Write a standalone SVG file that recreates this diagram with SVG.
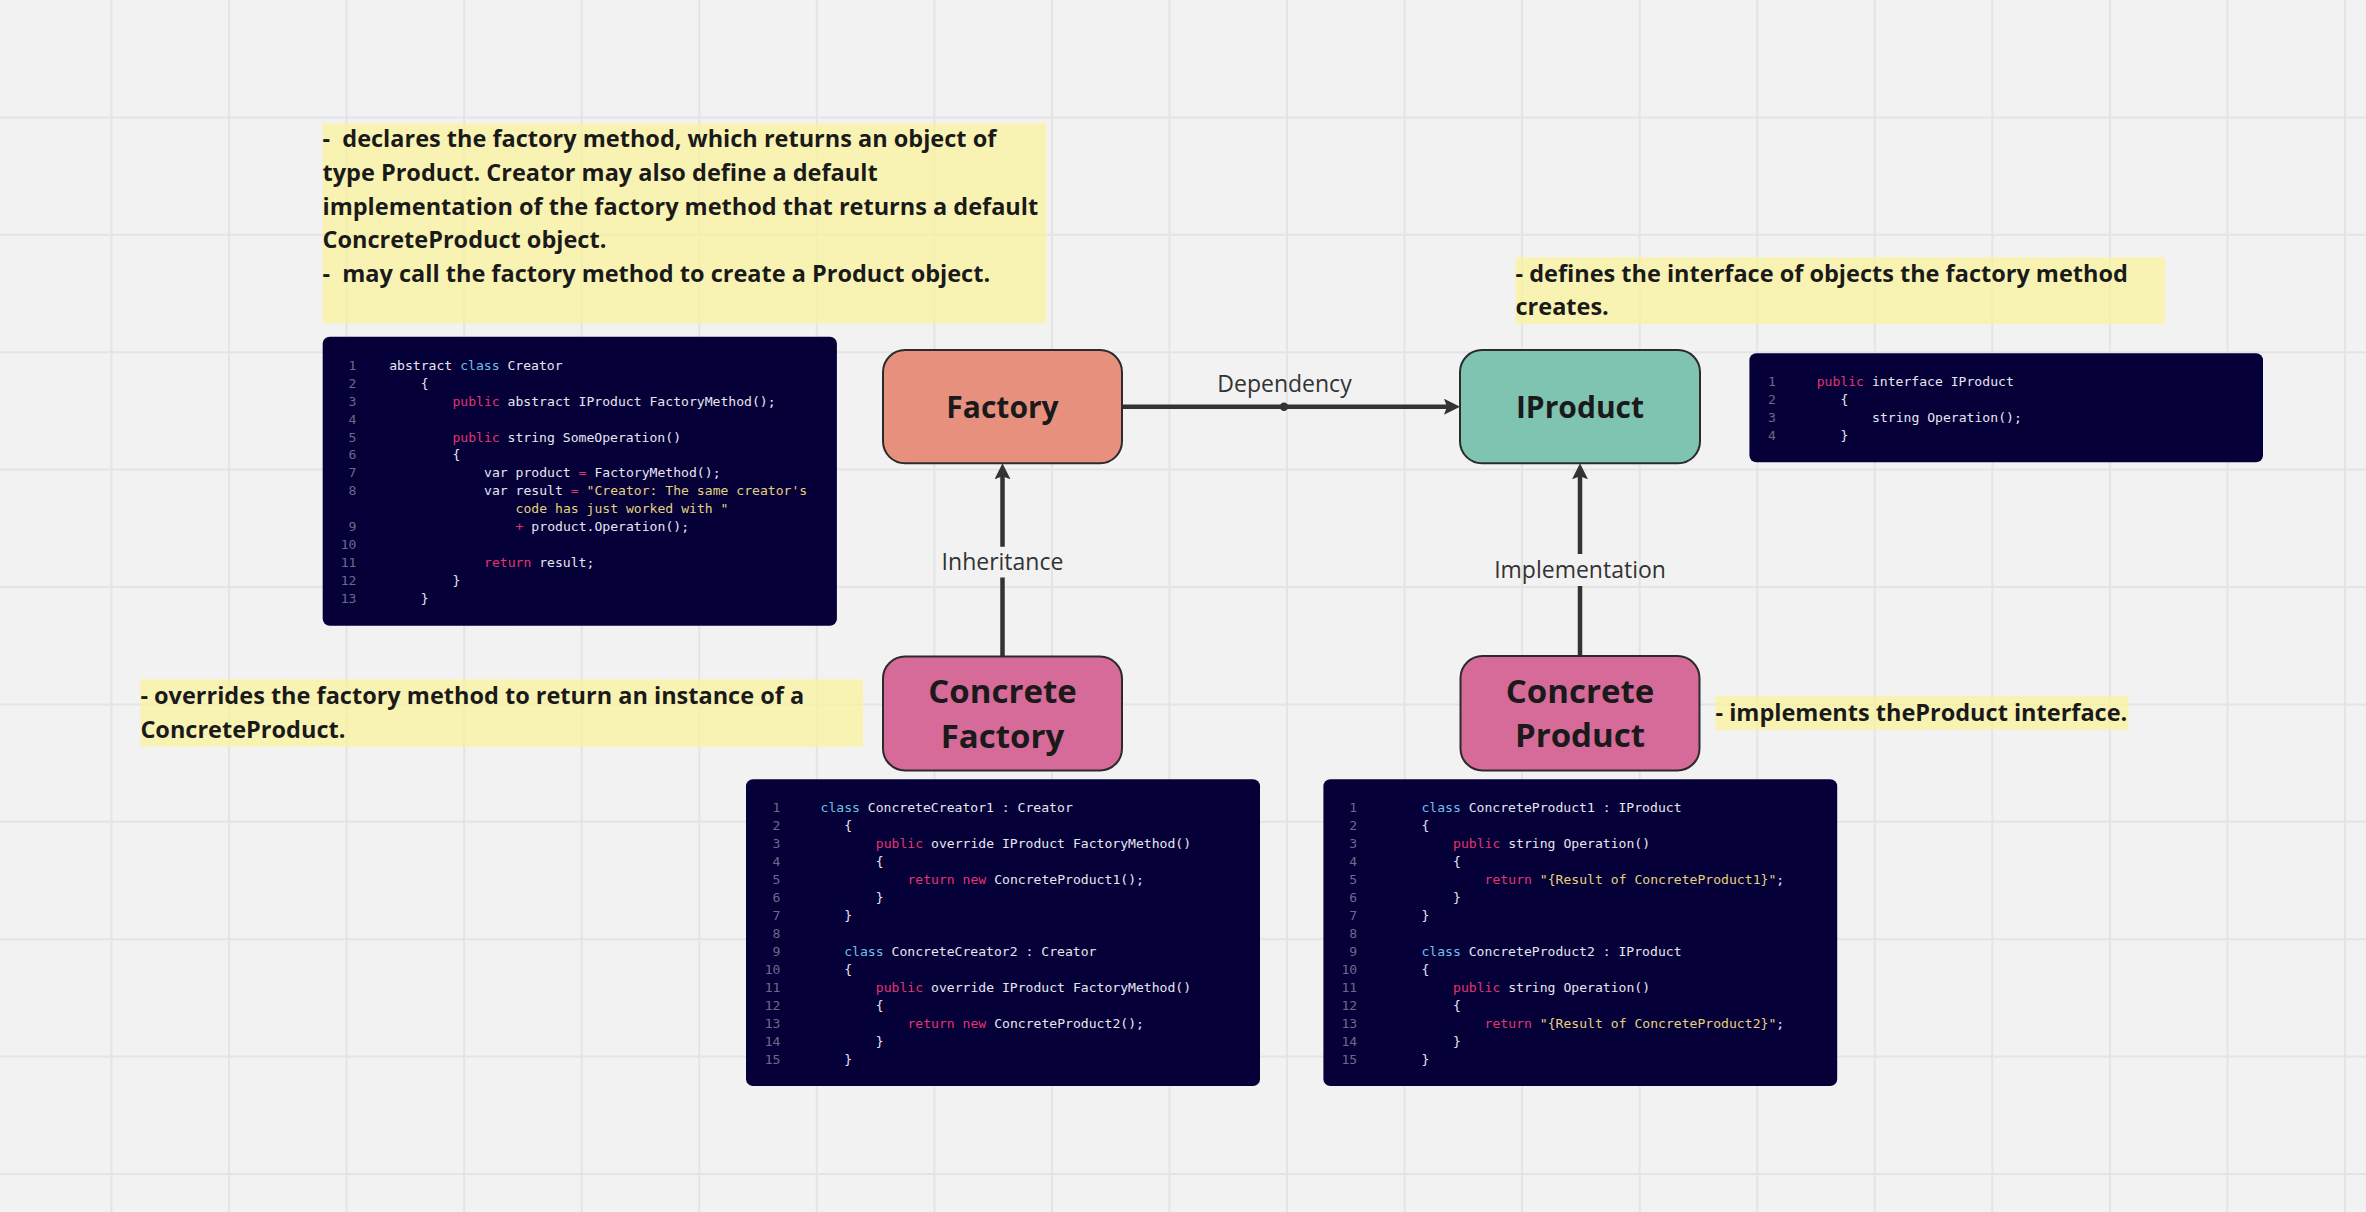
<svg xmlns="http://www.w3.org/2000/svg" width="2366" height="1212" viewBox="0 0 2366 1212">
<style>
.note{font-family:"Open Sans","Noto Sans","Liberation Sans",sans-serif;font-weight:700;font-size:23.5px;fill:#1a1a1a}
.nbg{fill:#fbf39a;opacity:0.72}
.node rect{stroke:#2b2b2b;stroke-width:2}
.ntxt{font-family:"Open Sans","Noto Sans","Liberation Sans",sans-serif;font-weight:700;fill:#1a1a1a;text-anchor:middle}
.lbl{font-family:"Open Sans","Noto Sans","Liberation Sans",sans-serif;font-size:23px;fill:#333333;text-anchor:middle}
.cbox{fill:#050038}
.code{font-family:"DejaVu Sans Mono","Liberation Mono",monospace;font-size:13.1px;fill:#e6e6f0}
.ln{fill:#6a6a8a;text-anchor:end}
.kw{fill:#e0356f}
.cl{fill:#6ec2e4}
.st{fill:#e3d27e}
.conn{fill:none;stroke:#333333;stroke-width:4.5}
</style>
<defs>
<marker id="arrow" viewBox="0 0 16 16" refX="6" refY="8" markerWidth="16" markerHeight="16" markerUnits="userSpaceOnUse" orient="auto">
<path d="M0,0 L16,8 L0,16 L3,8 z" fill="#333333"/>
</marker>
</defs>
<rect width="2366" height="1212" fill="#f2f2f2"/>
<path id="grid" fill="none" stroke="#e4e4e4" stroke-width="2" d="M111.5,0V1212M229.1,0V1212M346.6,0V1212M464.2,0V1212M581.7,0V1212M699.3,0V1212M816.8,0V1212M934.4,0V1212M1051.9,0V1212M1169.5,0V1212M1287,0V1212M1404.6,0V1212M1522.1,0V1212M1639.7,0V1212M1757.2,0V1212M1874.8,0V1212M1992.3,0V1212M2109.9,0V1212M2227.4,0V1212M2345,0V1212M0,117.4H2366M0,234.8H2366M0,352.2H2366M0,469.6H2366M0,587H2366M0,704.4H2366M0,821.8H2366M0,939.2H2366M0,1056.6H2366M0,1174H2366"/>

<g id="note-creator">
<rect class="nbg" x="322.5" y="123.3" width="724" height="200"/>
<text class="note" xml:space="preserve"><tspan x="322.5" y="147.3">-  declares the factory method, which returns an object of</tspan><tspan x="322.5" y="180.9">type Product. Creator may also define a default</tspan><tspan x="322.5" y="214.5">implementation of the factory method that returns a default</tspan><tspan x="322.5" y="248.1">ConcreteProduct object.</tspan><tspan x="322.5" y="281.7">-  may call the factory method to create a Product object.</tspan></text>
</g>

<g id="note-product">
<rect class="nbg" x="1515.5" y="257.3" width="649.5" height="66.7"/>
<text class="note"><tspan x="1515.5" y="281.7">- defines the interface of objects the factory method</tspan><tspan x="1515.5" y="315.2">creates.</tspan></text>
</g>

<g id="note-concrete-creator">
<rect class="nbg" x="140.4" y="679.3" width="722.6" height="67.4"/>
<text class="note"><tspan x="140.4" y="704.3">- overrides the factory method to return an instance of a</tspan><tspan x="140.4" y="737.8">ConcreteProduct.</tspan></text>
</g>

<g id="note-concrete-product">
<rect class="nbg" x="1715.5" y="696" width="413" height="34"/>
<text class="note" x="1715.5" y="721">- implements theProduct interface.</text>
</g>

<g id="connectors">
<path class="conn" d="M1122,406.7 H1450" marker-end="url(#arrow)"/>
<circle cx="1284" cy="406.7" r="4.2" fill="#333333"/>
<text class="lbl" x="1284.5" y="392.3">Dependency</text>
<path class="conn" d="M1002.5,656.5 V577.5 M1002.5,546.7 V473.3" marker-end="url(#arrow)"/>
<text class="lbl" x="1002.5" y="570">Inheritance</text>
<path class="conn" d="M1580,656 V586 M1580,554 V473.3" marker-end="url(#arrow)"/>
<text class="lbl" x="1580" y="578">Implementation</text>
</g>

<g id="node-factory" class="node">
<rect x="883" y="350" width="239" height="113.3" rx="22" fill="#e6907d"/>
<text class="ntxt" x="1002.5" y="418" font-size="30">Factory</text>
</g>
<g id="node-iproduct" class="node">
<rect x="1460" y="350" width="240" height="113.3" rx="22" fill="#7fc4b1"/>
<text class="ntxt" x="1580" y="418" font-size="30">IProduct</text>
</g>
<g id="node-concrete-factory" class="node">
<rect x="883" y="656.5" width="239" height="114" rx="22" fill="#d66a99"/>
<text class="ntxt" font-size="33"><tspan x="1002.5" y="703">Concrete</tspan><tspan x="1002.5" y="747.5">Factory</tspan></text>
</g>
<g id="node-concrete-product" class="node">
<rect x="1460.5" y="656" width="239" height="114.5" rx="22" fill="#d66a99"/>
<text class="ntxt" font-size="33"><tspan x="1580" y="703">Concrete</tspan><tspan x="1580" y="747">Product</tspan></text>
</g>

<g id="code-creator">
<rect class="cbox" x="322.7" y="336.7" width="514.2" height="289" rx="7"/>
<text class="code ln"><tspan x="356.5" y="369.7">1</tspan><tspan x="356.5" y="387.65">2</tspan><tspan x="356.5" y="405.6">3</tspan><tspan x="356.5" y="423.55">4</tspan><tspan x="356.5" y="441.5">5</tspan><tspan x="356.5" y="459.45">6</tspan><tspan x="356.5" y="477.4">7</tspan><tspan x="356.5" y="495.35">8</tspan><tspan x="356.5" y="531.25">9</tspan><tspan x="356.5" y="549.2">10</tspan><tspan x="356.5" y="567.15">11</tspan><tspan x="356.5" y="585.1">12</tspan><tspan x="356.5" y="603.05">13</tspan></text>
<text class="code" xml:space="preserve" x="389.2" y="369.7">abstract <tspan class="cl">class</tspan> Creator</text>
<text class="code" x="420.8" y="387.65">{</text>
<text class="code" xml:space="preserve" x="452.4" y="405.6"><tspan class="kw">public</tspan> abstract IProduct FactoryMethod();</text>
<text class="code" xml:space="preserve" x="452.4" y="441.5"><tspan class="kw">public</tspan> string SomeOperation()</text>
<text class="code" x="452.4" y="459.45">{</text>
<text class="code" xml:space="preserve" x="484" y="477.4">var product <tspan class="kw">=</tspan> FactoryMethod();</text>
<text class="code" xml:space="preserve" x="484" y="495.35">var result <tspan class="kw">=</tspan> <tspan class="st">"Creator: The same creator's</tspan></text>
<text class="code st" xml:space="preserve" x="515.6" y="513.3">code has just worked with "</text>
<text class="code" xml:space="preserve" x="515.6" y="531.25"><tspan class="kw">+</tspan> product.Operation();</text>
<text class="code" xml:space="preserve" x="484" y="567.15"><tspan class="kw">return</tspan> result;</text>
<text class="code" x="452.4" y="585.1">}</text>
<text class="code" x="420.8" y="603.05">}</text>
</g>

<g id="code-iproduct">
<rect class="cbox" x="1749.4" y="353.3" width="513.6" height="109" rx="7"/>
<text class="code ln"><tspan x="1776" y="386.3">1</tspan><tspan x="1776" y="404.3">2</tspan><tspan x="1776" y="422.3">3</tspan><tspan x="1776" y="440.3">4</tspan></text>
<text class="code" xml:space="preserve" x="1816.7" y="386.3"><tspan class="kw">public</tspan> interface IProduct</text>
<text class="code" x="1840.4" y="404.3">{</text>
<text class="code" xml:space="preserve" x="1872" y="422.3">string Operation();</text>
<text class="code" x="1840.4" y="440.3">}</text>
</g>

<g id="code-concrete-creator">
<rect class="cbox" x="746" y="779.3" width="514" height="306.7" rx="7"/>
<text class="code ln"><tspan x="780.5" y="812.3">1</tspan><tspan x="780.5" y="830.25">2</tspan><tspan x="780.5" y="848.2">3</tspan><tspan x="780.5" y="866.15">4</tspan><tspan x="780.5" y="884.1">5</tspan><tspan x="780.5" y="902.05">6</tspan><tspan x="780.5" y="920">7</tspan><tspan x="780.5" y="937.95">8</tspan><tspan x="780.5" y="955.9">9</tspan><tspan x="780.5" y="973.85">10</tspan><tspan x="780.5" y="991.8">11</tspan><tspan x="780.5" y="1009.75">12</tspan><tspan x="780.5" y="1027.7">13</tspan><tspan x="780.5" y="1045.65">14</tspan><tspan x="780.5" y="1063.6">15</tspan></text>
<text class="code" xml:space="preserve" x="820.5" y="812.3"><tspan class="cl">class</tspan> ConcreteCreator1 : Creator</text>
<text class="code" x="844.2" y="830.25">{</text>
<text class="code" xml:space="preserve" x="875.8" y="848.2"><tspan class="kw">public</tspan> override IProduct FactoryMethod()</text>
<text class="code" x="875.8" y="866.15">{</text>
<text class="code" xml:space="preserve" x="907.4" y="884.1"><tspan class="kw">return</tspan> <tspan class="kw">new</tspan> ConcreteProduct1();</text>
<text class="code" x="875.8" y="902.05">}</text>
<text class="code" x="844.2" y="920">}</text>
<text class="code" xml:space="preserve" x="844.2" y="955.9"><tspan class="cl">class</tspan> ConcreteCreator2 : Creator</text>
<text class="code" x="844.2" y="973.85">{</text>
<text class="code" xml:space="preserve" x="875.8" y="991.8"><tspan class="kw">public</tspan> override IProduct FactoryMethod()</text>
<text class="code" x="875.8" y="1009.75">{</text>
<text class="code" xml:space="preserve" x="907.4" y="1027.7"><tspan class="kw">return</tspan> <tspan class="kw">new</tspan> ConcreteProduct2();</text>
<text class="code" x="875.8" y="1045.65">}</text>
<text class="code" x="844.2" y="1063.6">}</text>
</g>

<g id="code-concrete-product">
<rect class="cbox" x="1323.4" y="779.3" width="513.8" height="306.7" rx="7"/>
<text class="code ln"><tspan x="1357.2" y="812.3">1</tspan><tspan x="1357.2" y="830.25">2</tspan><tspan x="1357.2" y="848.2">3</tspan><tspan x="1357.2" y="866.15">4</tspan><tspan x="1357.2" y="884.1">5</tspan><tspan x="1357.2" y="902.05">6</tspan><tspan x="1357.2" y="920">7</tspan><tspan x="1357.2" y="937.95">8</tspan><tspan x="1357.2" y="955.9">9</tspan><tspan x="1357.2" y="973.85">10</tspan><tspan x="1357.2" y="991.8">11</tspan><tspan x="1357.2" y="1009.75">12</tspan><tspan x="1357.2" y="1027.7">13</tspan><tspan x="1357.2" y="1045.65">14</tspan><tspan x="1357.2" y="1063.6">15</tspan></text>
<text class="code" xml:space="preserve" x="1421.4" y="812.3"><tspan class="cl">class</tspan> ConcreteProduct1 : IProduct</text>
<text class="code" x="1421.4" y="830.25">{</text>
<text class="code" xml:space="preserve" x="1453" y="848.2"><tspan class="kw">public</tspan> string Operation()</text>
<text class="code" x="1453" y="866.15">{</text>
<text class="code" xml:space="preserve" x="1484.6" y="884.1"><tspan class="kw">return</tspan> <tspan class="st">"{Result of ConcreteProduct1}"</tspan>;</text>
<text class="code" x="1453" y="902.05">}</text>
<text class="code" x="1421.4" y="920">}</text>
<text class="code" xml:space="preserve" x="1421.4" y="955.9"><tspan class="cl">class</tspan> ConcreteProduct2 : IProduct</text>
<text class="code" x="1421.4" y="973.85">{</text>
<text class="code" xml:space="preserve" x="1453" y="991.8"><tspan class="kw">public</tspan> string Operation()</text>
<text class="code" x="1453" y="1009.75">{</text>
<text class="code" xml:space="preserve" x="1484.6" y="1027.7"><tspan class="kw">return</tspan> <tspan class="st">"{Result of ConcreteProduct2}"</tspan>;</text>
<text class="code" x="1453" y="1045.65">}</text>
<text class="code" x="1421.4" y="1063.6">}</text>
</g>
</svg>
